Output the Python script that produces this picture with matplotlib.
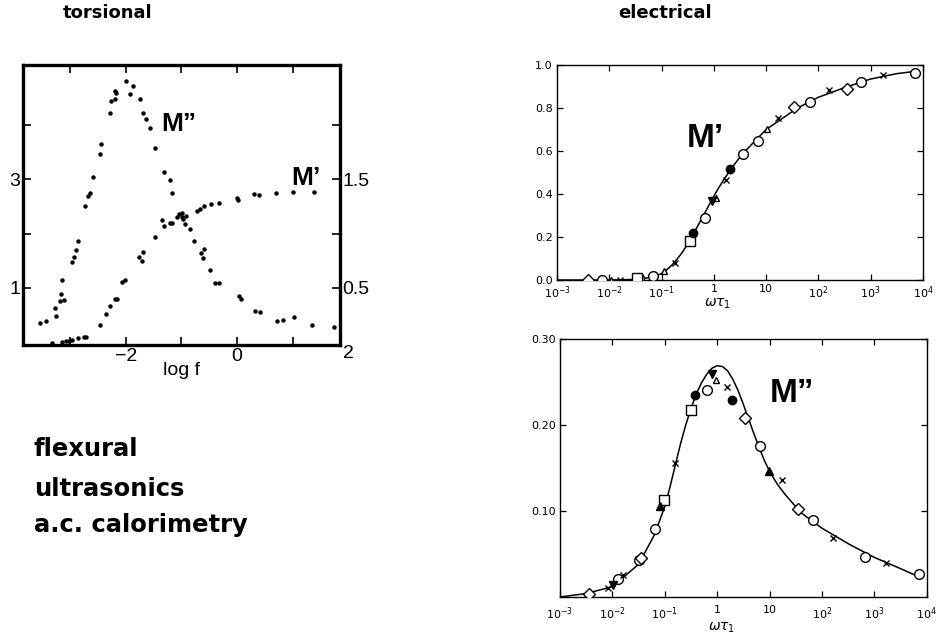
import numpy as np
import matplotlib.pyplot as plt

# torsional panel: log f vs M'' (left scale) and M' (right scale)
tors_logf_loss = [-3.55, -3.44, -3.28, -3.26, -3.19, -3.17, -3.14, -3.11, -2.96, -2.93,
                  -2.90, -2.86, -2.73, -2.68, -2.65, -2.59, -2.46, -2.44, -2.28, -2.26,
                  -2.20, -2.19, -2.17, -1.99, -1.92, -1.87, -1.75, -1.69, -1.63, -1.57,
                  -1.47, -1.31, -1.20, -1.17, -0.99, -0.93, -0.85, -0.78, -0.65, -0.60,
                  -0.61, -0.48, -0.39, -0.33, 0.03, 0.07, 0.33, 0.41, 0.72, 0.83,
                  1.02, 1.35, 1.74]
tors_loss = [0.35, 0.39, 0.63, 0.49, 0.76, 0.89, 1.14, 0.77, 1.47, 1.56,
             1.69, 1.87, 2.51, 2.69, 2.74, 3.04, 3.46, 3.65, 4.21, 4.43,
             4.47, 4.62, 4.59, 4.80, 4.56, 4.71, 4.48, 4.21, 4.10, 3.94,
             3.58, 3.14, 2.98, 2.75, 2.30, 2.17, 2.08, 1.87, 1.65, 1.72,
             1.55, 1.33, 1.09, 1.09, 0.86, 0.80, 0.58, 0.55, 0.39, 0.41,
             0.47, 0.31, 0.28]
tors_logf_stor = [-3.32, -3.14, -3.08, -3.02, -2.96, -2.86, -2.75, -2.71, -2.46, -2.35,
                  -2.28, -2.20, -2.16, -2.07, -2.02, -1.77, -1.71, -1.69, -1.47, -1.35,
                  -1.32, -1.20, -1.17, -1.08, -1.05, -0.99, -0.97, -0.91, -0.72, -0.67,
                  -0.60, -0.47, -0.33, 0.00, 0.01, 0.30, 0.39, 0.71, 1.01, 1.38]
tors_stor = [-0.01, 0.00, 0.01, 0.01, 0.02, 0.04, 0.05, 0.05, 0.16, 0.26,
             0.33, 0.40, 0.40, 0.55, 0.57, 0.78, 0.75, 0.83, 0.97, 1.12,
             1.07, 1.10, 1.10, 1.15, 1.18, 1.19, 1.13, 1.16, 1.21, 1.23,
             1.25, 1.27, 1.28, 1.33, 1.31, 1.36, 1.35, 1.37, 1.38, 1.38]

# electrical M' panel, values as log10(omega tau1)
e1_curve_lx = [-3.0, -2.0, -1.5, -1.2, -1.0, -0.9, -0.8, -0.7, -0.6, -0.5, -0.4, -0.3,
               -0.2, -0.1, 0.0, 0.1, 0.2, 0.3, 0.4, 0.5, 0.6, 0.8, 1.0, 1.3, 1.6, 2.0,
               2.5, 3.0, 3.5, 3.9]
e1_curve_y = [0.0, 0.0, 0.003, 0.012, 0.03, 0.048, 0.07, 0.098, 0.13, 0.168, 0.21, 0.255,
              0.30, 0.345, 0.39, 0.432, 0.47, 0.506, 0.54, 0.571, 0.60, 0.65, 0.70, 0.75,
              0.80, 0.85, 0.895, 0.935, 0.96, 0.972]
e1_circ_lx = [-2.14, -1.43, -1.16, -0.16, 0.56, 0.84, 1.84, 2.82, 3.84]
e1_circ_y = [0.0, 0.008, 0.02, 0.287, 0.584, 0.648, 0.829, 0.919, 0.964]
e1_diam_lx = [-2.41, 1.54, 2.55]
e1_diam_y = [0.0, 0.803, 0.887]
e1_sq_lx = [-1.47, -0.46]
e1_sq_y = [0.008, 0.181]
e1_fcirc_lx = [-0.39, 0.31]
e1_fcirc_y = [0.217, 0.515]
e1_tri_lx = [-1.96, -0.96, 0.05, 1.02]
e1_tri_y = [0.0, 0.042, 0.383, 0.702]
e1_ftri_lx = [-0.03]
e1_ftri_y = [0.367]
e1_x_lx = [-1.80, -0.75, 0.23, 1.23, 2.21, 3.23]
e1_x_y = [0.0, 0.081, 0.465, 0.752, 0.884, 0.953]

# electrical M'' panel
e2_curve_lx = [-3.0, -2.5, -2.0, -1.5, -1.2, -1.0, -0.9, -0.8, -0.7, -0.6, -0.5, -0.4,
               -0.3, -0.2, -0.1, 0.0, 0.1, 0.2, 0.3, 0.4, 0.5, 0.6, 0.7, 0.8, 0.9, 1.0,
               1.15, 1.3, 1.6, 2.0, 2.5, 3.0, 3.5, 3.9]
e2_curve_y = [0.0, 0.004, 0.012, 0.038, 0.072, 0.105, 0.128, 0.153, 0.178, 0.200, 0.219, 0.236,
              0.249, 0.259, 0.266, 0.269, 0.268, 0.263, 0.253, 0.240, 0.224, 0.207, 0.190, 0.174,
              0.159, 0.146, 0.131, 0.119, 0.098, 0.080, 0.062, 0.046, 0.033, 0.022]
e2_circ_lx = [-1.90, -1.50, -1.18, -0.20, 0.81, 1.82, 2.83, 3.85]
e2_circ_y = [0.021, 0.043, 0.079, 0.241, 0.176, 0.090, 0.047, 0.027]
e2_diam_lx = [-2.45, -1.45, 0.53, 1.54]
e2_diam_y = [0.004, 0.045, 0.208, 0.102]
e2_sq_lx = [-0.50, -1.02]
e2_sq_y = [0.218, 0.113]
e2_fcirc_lx = [-0.43, 0.28]
e2_fcirc_y = [0.235, 0.229]
e2_tri_lx = [-0.02]
e2_tri_y = [0.252]
e2_ftri_lx = [-1.09, 0.99]
e2_ftri_y = [0.106, 0.147]
e2_ftrid_lx = [-1.98, -0.09]
e2_ftrid_y = [0.014, 0.259]
e2_x_lx = [-2.09, -1.79, -0.81, 0.19, 1.23, 2.21, 3.23]
e2_x_y = [0.011, 0.025, 0.156, 0.244, 0.136, 0.069, 0.040]

decade_labels = ['$10^{-3}$', '$10^{-2}$', '$10^{-1}$', '1', '10', '$10^{2}$', '$10^{3}$', '$10^{4}$']
method_labels = ['flexural', 'ultrasonics', 'a.c. calorimetry']

plt.rcParams['mathtext.fontset'] = 'dejavusans'
fig = plt.figure(figsize=(9.43, 6.37), dpi=100)
W, H = 943.0, 637.0

# ---- torsional panel ----
ax = fig.add_axes([0.0244, 0.4584, 0.336, 0.4396])
ax.plot(tors_logf_loss, tors_loss, 'o', color='black', markersize=2.2)
ax.set_xlim(-3.85, 1.85)
ax.set_ylim(-0.05, 5.1)
ax.set_xticks([-3, -2, -1, 0, 1])
ax.set_xticklabels(['', '\u22122', '', '0', ''], fontsize=14, family='Liberation Sans')
ax.set_yticks([1, 2, 3, 4])
ax.set_yticklabels(['1', '', '3', ''], fontsize=14, family='Liberation Sans')
ax.tick_params(direction='in', length=6, width=1.2, top=True, right=False, pad=2)
ax.text(2.0, -0.05, '2', transform=ax.transData, ha='center', va='top',
        fontsize=14, family='Liberation Sans', clip_on=False)
ax.set_xlabel('log f', fontsize=14, family='Liberation Sans', labelpad=-2)
for s in ax.spines.values():
    s.set_linewidth(2.4)
ax2 = ax.twinx()
ax2.plot(tors_logf_stor, tors_stor, 'o', color='black', markersize=2.2)
ax2.set_ylim(-0.025, 2.55)
ax2.set_yticks([0.5, 1.0, 1.5, 2.0])
ax2.set_yticklabels(['0.5', '', '1.5', ''], fontsize=14, family='Liberation Sans')
ax2.tick_params(direction='in', length=6, width=1.2, pad=2)
ax.text(-1.36, 3.88, 'M\u201d', fontsize=19, fontweight='bold', family='Liberation Sans')
ax.text(0.98, 2.9, 'M\u2019', fontsize=19, fontweight='bold', family='Liberation Sans')

fig.text(108 / W, 1 - 13 / H, 'torsional', ha='center', va='center',
         fontsize=13, fontweight='bold')
fig.text(665 / W, 1 - 13 / H, 'electrical', ha='center', va='center',
         fontsize=13, fontweight='bold')
for lbl, ypix in zip(method_labels, [456, 496, 532]):
    fig.text(34 / W, 1 - ypix / H, lbl, ha='left', va='baseline',
             fontsize=17.5, fontweight='bold')


def draw_markers(a, sets):
    for lx, y, m, fill, size in sets:
        a.plot(10 ** np.array(lx), y, linestyle='none', marker=m, markersize=size,
               markerfacecolor=('black' if fill else 'white'), markeredgecolor='black',
               markeredgewidth=1.0, zorder=3)


def style_elec(a, yticks, ylabels, ymax, xpad, label_off):
    a.set_xscale('log')
    a.set_xlim(1e-3, 1e4)
    a.set_ylim(0, ymax)
    a.set_xticks([10.0 ** k for k in range(-3, 5)])
    a.set_xticklabels(decade_labels, fontsize=8)
    a.minorticks_off()
    a.set_yticks(yticks)
    a.set_yticklabels(ylabels, fontsize=8)
    a.tick_params(direction='in', length=4, width=0.9, top=True, right=True, pad=3)
    a.tick_params(axis='x', pad=xpad)
    for s in a.spines.values():
        s.set_linewidth(1.0)
    h_px = a.get_position().height * H
    a.text(0.44, -label_off / h_px, r'$\omega\tau_1$', transform=a.transAxes,
           ha='center', va='center', fontsize=10)


# ---- electrical M' ----
axa = fig.add_axes([0.5907, 0.5604, 0.388, 0.3375])
axa.plot(10 ** np.array(e1_curve_lx), e1_curve_y, color='black', linewidth=1.1)
draw_markers(axa, [
    (e1_circ_lx, e1_circ_y, 'o', False, 7),
    (e1_diam_lx, e1_diam_y, 'D', False, 6),
    (e1_sq_lx, e1_sq_y, 's', False, 6.5),
    (e1_fcirc_lx, e1_fcirc_y, 'o', True, 6),
    (e1_tri_lx, e1_tri_y, '^', False, 5),
    (e1_ftri_lx, e1_ftri_y, 'v', True, 5.5),
    (e1_x_lx, e1_x_y, 'x', False, 4),
])
style_elec(axa, [0, 0.2, 0.4, 0.6, 0.8, 1.0], ['0.0', '0.2', '0.4', '0.6', '0.8', '1.0'],
           1.0, 3, 24)
axa.text(10 ** -0.52, 0.62, 'M\u2019', fontsize=24, fontweight='bold', family='Liberation Sans')

# ---- electrical M'' ----
axb = fig.add_axes([0.5938, 0.0628, 0.389, 0.405])
axb.plot(10 ** np.array(e2_curve_lx), e2_curve_y, color='black', linewidth=1.1)
draw_markers(axb, [
    (e2_circ_lx, e2_circ_y, 'o', False, 7),
    (e2_diam_lx, e2_diam_y, 'D', False, 6),
    (e2_sq_lx, e2_sq_y, 's', False, 6.5),
    (e2_fcirc_lx, e2_fcirc_y, 'o', True, 6),
    (e2_tri_lx, e2_tri_y, '^', False, 5),
    (e2_ftri_lx, e2_ftri_y, '^', True, 5.5),
    (e2_ftrid_lx, e2_ftrid_y, 'v', True, 5.5),
    (e2_x_lx, e2_x_y, 'x', False, 4),
])
style_elec(axb, [0.10, 0.20, 0.30], ['0.10', '0.20', '0.30'], 0.30, 6, 31)
axb.text(10 ** 1.0, 0.227, 'M\u201d', fontsize=24, fontweight='bold', family='Liberation Sans')

fig.savefig('out.png', dpi=100)
